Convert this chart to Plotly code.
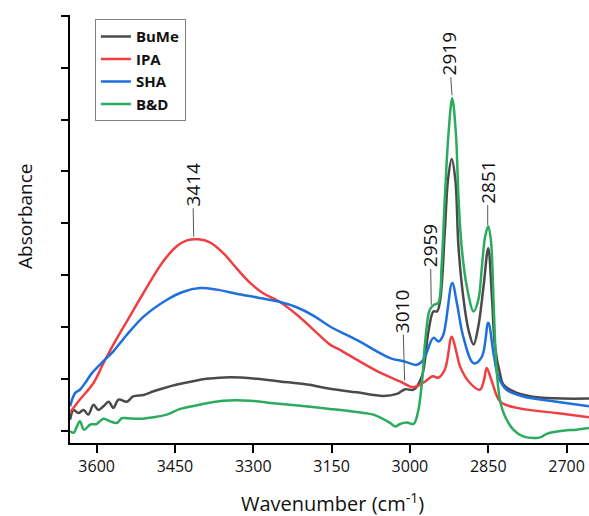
import numpy as np
import plotly.graph_objects as go

# ---- FTIR spectra (wavenumber in cm-1, absorbance in a.u.) ----
bume_wn = [3651, 3644, 3635, 3625, 3616, 3606, 3597, 3587, 3577, 3568, 3558, 3542, 3530,
           3510, 3491, 3472, 3446, 3408, 3389, 3344, 3293, 3249, 3197, 3153, 3102, 3051,
           3025, 3009, 2993, 2977, 2965, 2955, 2948, 2942, 2933, 2927, 2920, 2913, 2907,
           2898, 2888, 2878, 2869, 2859, 2850, 2843, 2837, 2827, 2821, 2795, 2751, 2657]
bume_abs = [0.021, 0.040, 0.034, 0.040, 0.031, 0.050, 0.040, 0.047, 0.056, 0.044, 0.060, 0.056, 0.066,
            0.069, 0.076, 0.082, 0.089, 0.097, 0.100, 0.103, 0.100, 0.095, 0.089, 0.081, 0.074, 0.067,
            0.071, 0.080, 0.079, 0.105, 0.188, 0.230, 0.230, 0.252, 0.387, 0.484, 0.524, 0.484, 0.355,
            0.259, 0.195, 0.166, 0.201, 0.278, 0.352, 0.259, 0.162, 0.108, 0.089, 0.073, 0.064, 0.062]

ipa_wn = [3651, 3632, 3606, 3587, 3568, 3542, 3510, 3472, 3446, 3427, 3405, 3383, 3357,
          3332, 3306, 3281, 3252, 3217, 3185, 3153, 3134, 3102, 3057, 3019, 2994, 2975, 2956,
          2946, 2933, 2920, 2912, 2904, 2885, 2866, 2858, 2853, 2843, 2827, 2795, 2719, 2657]
ipa_abs = [0.035, 0.060, 0.092, 0.130, 0.166, 0.211, 0.266, 0.327, 0.356, 0.367, 0.369, 0.363, 0.342,
           0.313, 0.285, 0.265, 0.250, 0.224, 0.195, 0.166, 0.156, 0.137, 0.112, 0.095, 0.084, 0.092, 0.105,
           0.102, 0.118, 0.181, 0.156, 0.124, 0.092, 0.079, 0.098, 0.121, 0.095, 0.056, 0.044, 0.034, 0.026]

sha_wn = [3651, 3641, 3632, 3622, 3609, 3587, 3568, 3555, 3542, 3510, 3466, 3434, 3402,
          3370, 3332, 3293, 3252, 3217, 3185, 3153, 3102, 3038, 3012, 2987, 2974, 2955, 2945,
          2936, 2919, 2910, 2898, 2878, 2862, 2850, 2840, 2831, 2815, 2783, 2719, 2657]
sha_abs = [0.047, 0.073, 0.079, 0.092, 0.111, 0.134, 0.153, 0.169, 0.185, 0.220, 0.252, 0.268, 0.275,
           0.272, 0.264, 0.257, 0.249, 0.238, 0.222, 0.201, 0.175, 0.140, 0.134, 0.127, 0.137, 0.179, 0.172,
           0.185, 0.285, 0.246, 0.182, 0.130, 0.143, 0.208, 0.150, 0.105, 0.079, 0.066, 0.056, 0.047]

bd_wn = [3651, 3644, 3638, 3632, 3624, 3612, 3600, 3587, 3574, 3561, 3552, 3542, 3517, 3491,
         3466, 3440, 3408, 3389, 3357, 3306, 3261, 3210, 3153, 3102, 3070, 3038, 3028, 3019,
         3006, 2993, 2985, 2977, 2971, 2962, 2954, 2946, 2939, 2933, 2926, 2919, 2912, 2907,
         2901, 2891, 2878, 2869, 2862, 2856, 2850, 2845, 2839, 2834, 2827, 2818, 2802, 2783,
         2757, 2748, 2738, 2706, 2681, 2657]
bd_abs = [-0.001, -0.004, 0.008, 0.018, 0.002, 0.012, 0.013, 0.023, 0.018, 0.015, 0.024, 0.024, 0.023, 0.026,
          0.031, 0.042, 0.049, 0.053, 0.058, 0.058, 0.053, 0.048, 0.042, 0.036, 0.031, 0.015, 0.008, 0.013,
          0.016, 0.013, 0.034, 0.092, 0.169, 0.233, 0.243, 0.246, 0.323, 0.451, 0.574, 0.641, 0.574, 0.451,
          0.355, 0.278, 0.230, 0.252, 0.317, 0.374, 0.394, 0.368, 0.227, 0.118, 0.056, 0.028, 0.002, -0.011,
          -0.014, -0.012, -0.006, 0.000, 0.002, 0.005]

series_names = ["BuMe", "IPA", "SHA", "B&D"]
series_wn = [bume_wn, ipa_wn, sha_wn, bd_wn]
series_abs = [bume_abs, ipa_abs, sha_abs, bd_abs]
series_colors = ["#4a4a4a", "#ef3f42", "#1f6fdc", "#2bab5f"]

# Band assignments labelled on the spectra
peak_labels = ["3414", "3010", "2959", "2919", "2851"]
peak_wn = [3414, 3010, 2959, 2919, 2851]
peak_series = ["IPA", "IPA", "B&D", "B&D", "B&D"]
label_dx = [-1, -2, -1, -3, 0]
label_dy = [-55, -72, -62, -44, -46]

x_ticks = [3600, 3450, 3300, 3150, 3000, 2850, 2700]

FONT = "Open Sans"

fig = go.Figure()
for name, wn, ab, col in zip(series_names, series_wn, series_abs, series_colors):
    fig.add_trace(go.Scatter(
        x=wn, y=ab, name=name, mode="lines",
        line=dict(color=col, width=2.5, shape="spline", smoothing=1.0),
    ))

for lab, wn0, sname, dx, dy in zip(peak_labels, peak_wn, peak_series, label_dx, label_dy):
    i = series_names.index(sname)
    xs = np.array(series_wn[i])[::-1]
    ys = np.array(series_abs[i])[::-1]
    y0 = float(np.interp(wn0, xs, ys))
    fig.add_annotation(
        x=wn0, y=y0, text=lab, textangle=-90,
        showarrow=True, arrowhead=0, arrowwidth=1, arrowcolor="#555555",
        ax=dx, ay=dy, standoff=3,
        font=dict(family=FONT, size=19, color="#111111"),
    )

# axis titles
fig.add_annotation(
    xref="paper", yref="paper", x=0.505, y=-0.14, yanchor="middle",
    text="Wavenumber (cm<sup>-1</sup>)", showarrow=False,
    font=dict(family=FONT, size=20, color="#111111"),
)
fig.add_annotation(
    xref="paper", yref="paper", x=-0.087, y=0.53, xanchor="center", yanchor="middle",
    text="Absorbance", textangle=-90, showarrow=False,
    font=dict(family=FONT, size=19, color="#111111"),
)

fig.update_layout(
    width=589, height=516,
    margin=dict(l=70, r=0, t=15, b=73),
    plot_bgcolor="white", paper_bgcolor="white",
    showlegend=True,
    legend=dict(
        x=0.048, y=0.99, xanchor="left", yanchor="top",
        bgcolor="white", bordercolor="#808080", borderwidth=1,
        font=dict(family=FONT, size=15, color="#111111", weight="bold"),
        itemwidth=30, tracegroupgap=0,
    ),
)
fig.update_xaxes(
    range=[3651, 2657], tickvals=x_ticks, ticks="outside", ticklen=8, tickwidth=2,
    tickcolor="black", showline=True, linecolor="black", linewidth=2,
    showgrid=False, zeroline=False,
    tickfont=dict(family=FONT, size=16, color="#111111"),
)
fig.update_yaxes(
    range=[-0.0237, 0.8015], tick0=0, dtick=0.1, ticks="outside", ticklen=7, tickwidth=2,
    tickcolor="black", showline=True, linecolor="black", linewidth=2,
    showgrid=False, zeroline=False, showticklabels=False,
)

fig.write_html("out.html")
